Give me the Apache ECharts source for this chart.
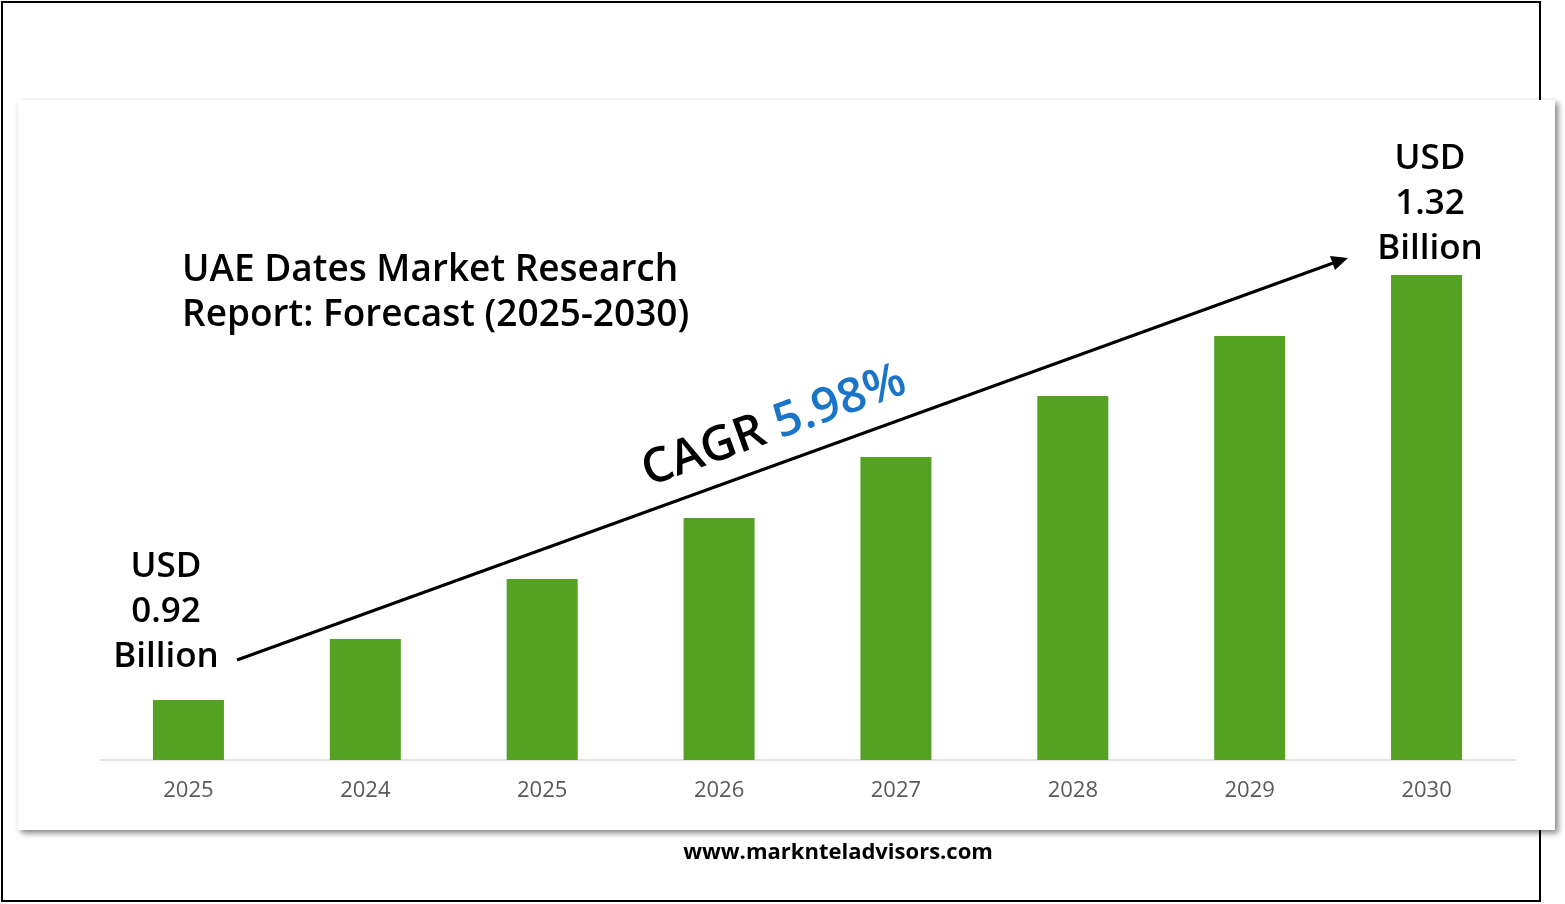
<!DOCTYPE html>
<html><head><meta charset="utf-8">
<script src="https://cdn.jsdelivr.net/npm/echarts@6/dist/echarts.min.js"></script>
<style>html,body{margin:0;padding:0;background:#fff}#c{width:1565px;height:904px}</style>
</head><body><div id="c"></div>
<script>
const categories=['2025','2024','2025','2026','2027','2028','2029','2030'];
const values=[60,121,181,242,303,364,424,485];
const title=['UAE Dates Market Research','Report: Forecast (2025-2030)'];
const startLabel=['USD','0.92','Billion'];
const endLabel=['USD','1.32','Billion'];
const F='Open Sans';
const chart=echarts.init(document.getElementById('c'));
const ang=Math.atan2(660-258,1348-237);
chart.setOption({
 animation:false,
 grid:{left:100,right:50,top:100,bottom:144},
 xAxis:{type:'category',data:categories,axisLine:{lineStyle:{color:'#d9d9d9',width:1.5}},axisTick:{show:false},
   axisLabel:{color:'#595959',fontSize:22,fontFamily:F,margin:20}},
 yAxis:{type:'value',min:0,max:660,show:false,splitLine:{show:false}},
 series:[{type:'bar',data:values,barWidth:71,itemStyle:{color:'#55a122'}}],
 graphic:[
  {type:'rect',z:-10,shape:{x:2,y:2,width:1538,height:899},style:{fill:'#fff',stroke:'#000',lineWidth:2}},
  {type:'rect',z:-9,shape:{x:18,y:100,width:1537,height:730},style:{fill:'#fff',shadowBlur:6,shadowOffsetX:3,shadowOffsetY:3,shadowColor:'rgba(0,0,0,0.5)'}},
  {type:'text',left:182,top:248,style:{text:title.join('\n'),font:'600 37px "'+F+'"',lineHeight:45,fill:'#000'}},
  {type:'text',x:166,y:545,style:{text:'{c|USD}\n{c|0.92}\n{c|Billion}',rich:{c:{font:'600 35px "'+F+'"',lineHeight:45,fill:'#000',align:'center',width:160}},align:'center'}},
  {type:'text',x:1430,y:137,style:{text:'{c|USD}\n{c|1.32}\n{c|Billion}',rich:{c:{font:'600 35px "'+F+'"',lineHeight:45,fill:'#000',align:'center',width:160}},align:'center'}},
  {type:'line',shape:{x1:237,y1:660,x2:1336,y2:262},style:{stroke:'#000',lineWidth:3}},
  {type:'polygon',shape:{points:[[1348,258],[1330,256],[1335,270]]},style:{fill:'#000'}},
  {type:'text',x:652,y:496,rotation:ang,style:{text:'{a|CAGR }{b|5.98%}',rich:{a:{font:'600 48px "'+F+'"',fill:'#000'},b:{font:'600 48px "'+F+'"',fill:'#1a75c9'}},verticalAlign:'bottom'}},
  {type:'text',x:838,y:853,style:{text:'www.marknteladvisors.com',font:'bold 22px "'+F+'"',fill:'#000',align:'center',verticalAlign:'middle'}}
 ]
});
</script></body></html>
